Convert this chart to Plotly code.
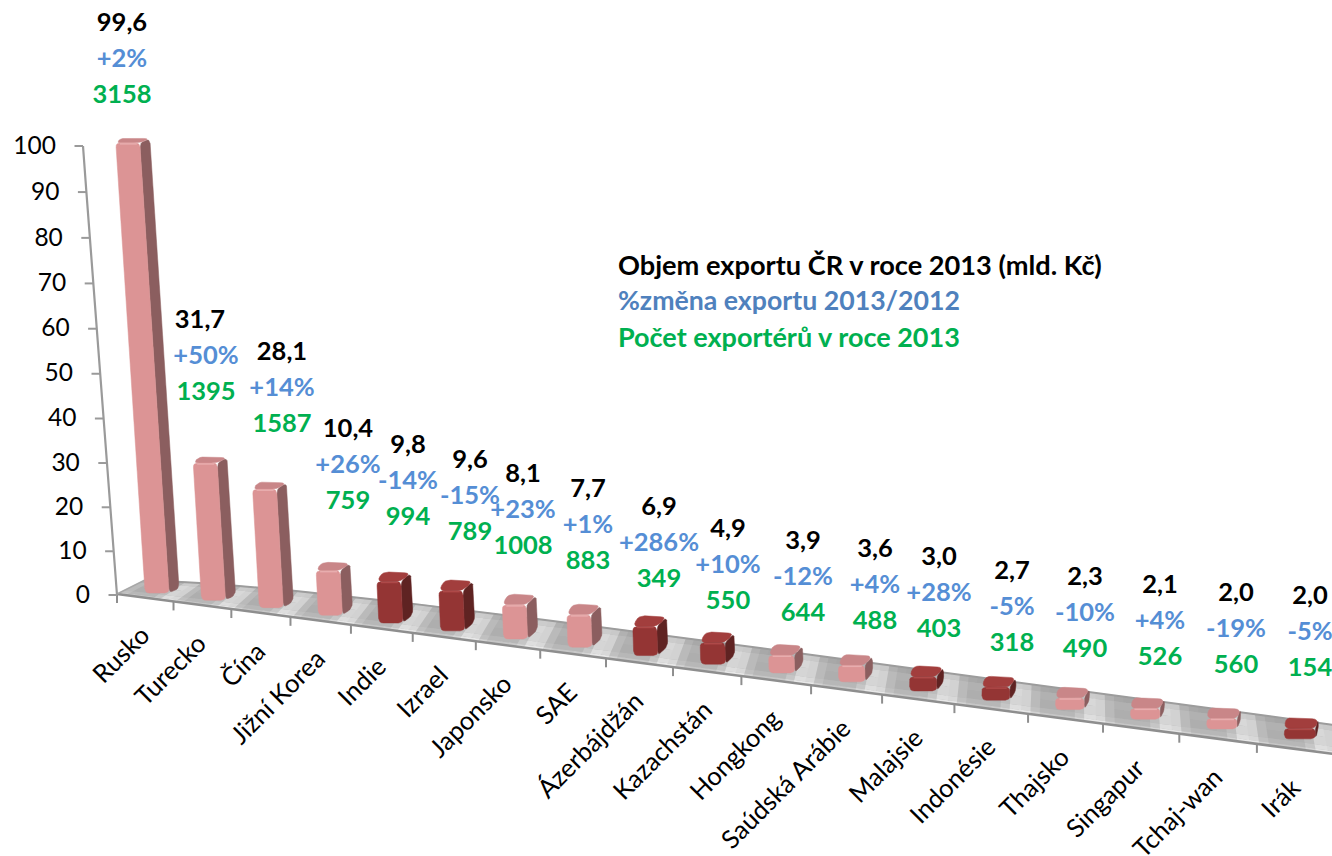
import math
import plotly.graph_objects as go

# ---------- data ----------
categories = ["Rusko", "Turecko", "Čína", "Jižní Korea", "Indie", "Izrael", "Japonsko", "SAE",
              "Ázerbájdžán", "Kazachstán", "Hongkong", "Saúdská Arábie", "Malajsie", "Indonésie",
              "Thajsko", "Singapur", "Tchaj-wan", "Irák"]
export_bn = [99.6, 31.7, 28.1, 10.4, 9.8, 9.6, 8.1, 7.7, 6.9, 4.9, 3.9, 3.6, 3.0, 2.7, 2.3, 2.1, 2.0, 2.0]
change_pct = ["+2%", "+50%", "+14%", "+26%", "-14%", "-15%", "+23%", "+1%", "+286%", "+10%", "-12%",
              "+4%", "+28%", "-5%", "-10%", "+4%", "-19%", "-5%"]
exporters = [3158, 1395, 1587, 759, 994, 789, 1008, 883, 349, 550, 644, 488, 403, 318, 490, 526, 560, 154]
highlighted = ["Indie", "Izrael", "Ázerbájdžán", "Kazachstán", "Malajsie", "Indonésie", "Irák"]
axis_ticks = list(range(0, 101, 10))
legend_lines = ["Objem exportu ČR v roce 2013 (mld. Kč)", "%změna exportu 2013/2012", "Počet exportérů v roce 2013"]

# ---------- placement of the overlaid text boxes ----------
label_x = [122, 200, 282, 348, 408, 470, 523, 588, 659, 728, 803, 875, 939, 1012, 1085, 1160, 1236, 1310]
label_x_lower = [122, 206, 282, 348, 408, 470, 523, 588, 659, 728, 803, 875, 939, 1012, 1085, 1160, 1236, 1310]
label_y = [25, 322, 354, 431, 447, 462, 476, 491, 509, 531, 543, 551, 559, 573, 579, 587, 595, 598]
row_gap = 35.7

FONT = "Lato"
BLACK, BLUE, GREEN = "#000000", "#558ED5", "#00B050"
BLUE2 = "#4F81BD"
PINK = dict(front="#DC9495", side="#8B5E5F", cap="#C98688", top="#E8ADAE")
DARK = dict(front="#943534", side="#5F2322", cap="#A23E3D", top="#AE4948")


# ---------- perspective projection of the 3-D chart ----------
def front_x(u):
    return 117 + 55.85 * u + 0.659 * u * u


def front_y(x):
    return 594 + 0.1315 * (x - 117)


def floor_point(u, d):
    """u: category position, d: 0 front edge .. 1 back edge"""
    fx = front_x(u)
    fy = front_y(fx)
    return fx + d * (28 - 1.9 * u), fy - d * (14 + 16 * (1 - math.exp(-u / 3)))


def axis_x(v):
    return 117 - 0.34 * v


def axis_y(v):
    return 595 - 4.36 * v - 0.0013 * v * v


def rounded(points, r):
    out = []
    n = len(points)
    for k in range(n):
        p0, p1, p2 = points[k - 1], points[k], points[(k + 1) % n]
        d1 = math.dist(p0, p1) or 1
        d2 = math.dist(p2, p1) or 1
        a = min(r, d1 / 2) / d1
        b = min(r, d2 / 2) / d2
        s = (p1[0] + (p0[0] - p1[0]) * a, p1[1] + (p0[1] - p1[1]) * a)
        e = (p1[0] + (p2[0] - p1[0]) * b, p1[1] + (p2[1] - p1[1]) * b)
        for t in (0, .25, .5, .75, 1):
            out.append(((1 - t) ** 2 * s[0] + 2 * t * (1 - t) * p1[0] + t * t * e[0],
                        (1 - t) ** 2 * s[1] + 2 * t * (1 - t) * p1[1] + t * t * e[1]))
    return out


fig = go.Figure()


def poly(points, color, name=None):
    xs = [p[0] for p in points] + [points[0][0]]
    ys = [p[1] for p in points] + [points[0][1]]
    fig.add_trace(go.Scatter(x=xs, y=ys, mode="lines", fill="toself", fillcolor=color,
                             line=dict(color=color, width=0.5), name=name or "",
                             hoverinfo="skip", showlegend=False))


def line(points, color, width):
    fig.add_trace(go.Scatter(x=[p[0] for p in points], y=[p[1] for p in points], mode="lines",
                             line=dict(color=color, width=width), hoverinfo="skip", showlegend=False))


# ---------- floor (metallic gradient, grouped per gray level) ----------
edge_u = [k * 0.25 for k in range(75)]
poly([floor_point(u, 0) for u in edge_u] + [floor_point(u, 1) for u in reversed(edge_u)], "#B4B4B4")
groups = {}
N_U, STEP = 8, 1 / 8
depths = [0, .1, .25, .55, .8, 1]
depth_gain = [22, 6, -2, 0, -10]
for k in range(int(18.5 * N_U)):
    u0, u1 = k * STEP, (k + 1) * STEP + 0.03
    frac = (k * STEP + 0.2) % 1
    glow = math.exp(-((min(frac, 1 - frac)) / 0.17) ** 2)
    for j in range(len(depths) - 1):
        g = int(round((176 + 42 * glow + depth_gain[j]) / 3) * 3)
        g = min(g, 232)
        quad = [floor_point(u0, depths[j]), floor_point(u1, depths[j]),
                floor_point(u1, depths[j + 1]), floor_point(u0, depths[j + 1])]
        groups.setdefault(g, []).append(quad)
for g in sorted(groups):
    xs, ys = [], []
    for q in groups[g]:
        xs += [p[0] for p in q] + [q[0][0], None]
        ys += [p[1] for p in q] + [q[0][1], None]
    col = f"rgb({g},{g},{g})"
    fig.add_trace(go.Scatter(x=xs, y=ys, mode="lines", fill="toself", fillcolor=col,
                             line=dict(width=0), hoverinfo="skip", showlegend=False))

line([floor_point(u, 1) for u in edge_u], "#9C9C9C", 2)
line([floor_point(u, 0) for u in edge_u], "#8E8E8E", 2.5)
line([floor_point(0, 0), floor_point(0, 1)], "#A8A8A8", 1.5)
for n in range(19):
    p = floor_point(n, 0)
    line([p, (p[0], p[1] + 9)], "#8E8E8E", 2)

# ---------- value axis ----------
line([(axis_x(v), axis_y(v)) for v in axis_ticks], "#9A9A9A", 2.2)
for v in axis_ticks:
    line([(axis_x(v) - 8.5, axis_y(v)), (axis_x(v), axis_y(v))], "#9A9A9A", 2)
fig.add_trace(go.Scatter(x=[axis_x(v) - 27 for v in axis_ticks], y=[axis_y(v) + 1.5 for v in axis_ticks],
                         mode="text", text=[str(v) for v in axis_ticks], textposition="middle left",
                         textfont=dict(family=FONT, size=24.5, color=BLACK), hoverinfo="skip",
                         showlegend=False, cliponaxis=False))

# ---------- bars ----------
for i, (cat, v) in enumerate(zip(categories, export_bn)):
    pal = DARK if cat in highlighted else PINK
    cx = front_x(i + .5) + 17 - 0.7 * i
    by = 593 + 0.128 * (cx - 162)
    side = 10 if i <= 8 else 10 - 7 * (i - 8) / 9
    fw = 34 - side
    left = cx - 17
    H = (595 - axis_y(v)) * (0.85 + 0.15 * 0.75 ** i) + 3
    lean = max(0, 0.065 - 0.004 * i) * H
    cap = min(11, 5 + 1.2 * i)
    rise = 0.85 * cap
    ty = by - H
    bl, br = (left, by), (left + fw, by)
    tl, tr = (left - lean, ty), (left + fw - lean, ty)
    sbr, str_ = (br[0] + side, by - rise), (tr[0] + side, ty - rise)
    poly(rounded([br, sbr, str_, tr], 5), pal["side"])
    poly(rounded([tl, tr, str_, (tl[0] + side * .6, ty - cap)], 6), pal["cap"], cat)
    poly(rounded([bl, br, tr, tl], 4.5), pal["front"], cat)
    # soft bevel highlight along the top edge of the front face
    line([(tl[0] + 4, ty + 1), (tr[0] - 3, ty + 1)], pal["top"], 1.5)

# ---------- three stacked data labels ----------
rows = [([f"{v:.1f}".replace(".", ",") for v in export_bn], BLACK, 0, label_x),
        (change_pct, BLUE, 1, label_x_lower),
        ([str(n) for n in exporters], GREEN, 2, label_x_lower)]
for texts, col, r, xs in rows:
    fig.add_trace(go.Scatter(x=xs, y=[y + r * row_gap for y in label_y], mode="text", text=texts,
                             textposition="middle center", cliponaxis=False, hoverinfo="skip", showlegend=False,
                             textfont=dict(family=FONT, size=25.5, color=col, weight="bold")))

# ---------- annotations ----------
ann = []
for i, cat in enumerate(categories):
    x = front_x(i + .5)
    ann.append(dict(x=x + 11, y=front_y(x) + 21, text=cat, showarrow=False, textangle=-45,
                    xanchor="right", yanchor="top", xref="x", yref="y", borderpad=0,
                    font=dict(family=FONT, size=25.5, color=BLACK)))
for txt, col, y, size in zip(legend_lines, [BLACK, BLUE2, GREEN], [264, 300, 336], [27.2, 26.7, 27.0]):
    ann.append(dict(x=616, y=y, text=f"<b>{txt}</b>", showarrow=False, xanchor="left", yanchor="middle",
                    xref="x", yref="y", font=dict(family=FONT, size=size, color=col)))

fig.update_layout(width=1332, height=856, margin=dict(l=0, r=0, t=0, b=0),
                  paper_bgcolor="white", plot_bgcolor="white", showlegend=False, annotations=ann,
                  xaxis=dict(range=[0, 1332], visible=False, fixedrange=True),
                  yaxis=dict(range=[856, 0], visible=False, fixedrange=True))

fig.write_html("out.html", config=dict(displayModeBar=False),
               post_script="document.body.style.margin='0';document.body.style.overflow='hidden';")
